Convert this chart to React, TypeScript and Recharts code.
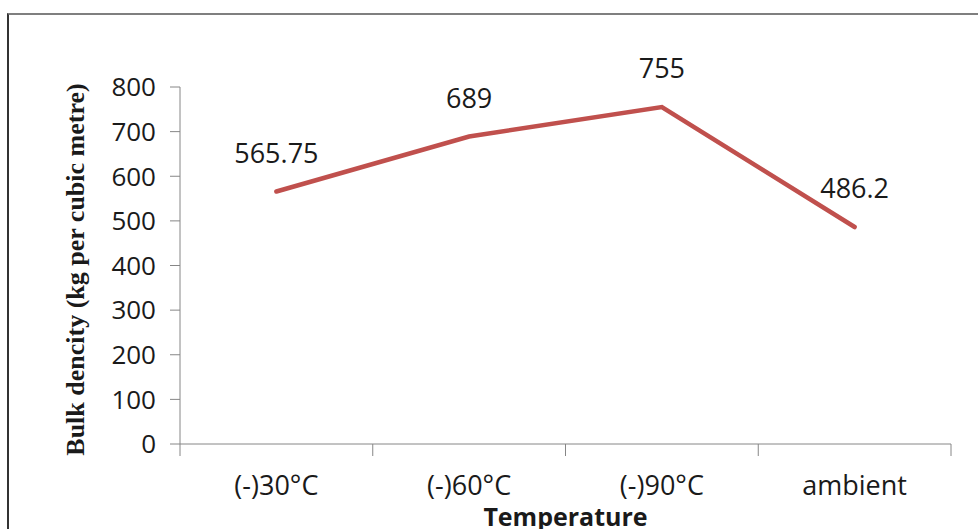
import { LineChart, Line, XAxis, YAxis, LabelList } from 'recharts';

const temperatures = ['(-)30°C', '(-)60°C', '(-)90°C', 'ambient'];
const bulkDensity = [565.75, 689, 755, 486.2];
const densityTicks = [0, 100, 200, 300, 400, 500, 600, 700, 800];

const chartData = temperatures.map((t, i) => ({ temperature: t, density: bulkDensity[i] }));

const AXIS = '#868686';
const TEXT = '#1a1a1a';
const SANS = '"Open Sans", "Noto Sans", sans-serif';

// Excel-style category axis: labels at band centres, tick marks on band edges
function CategoryTick(props: any) {
  const { x, y, payload, index, visibleTicksCount, width } = props;
  const band = (width || 770) / (visibleTicksCount || temperatures.length);
  const left = x - band / 2;
  const right = x + band / 2;
  return (
    <g>
      <line x1={left} y1={y} x2={left} y2={y + 12} stroke={AXIS} strokeWidth={1} />
      {index === visibleTicksCount - 1 && (
        <line x1={right} y1={y} x2={right} y2={y + 12} stroke={AXIS} strokeWidth={1} />
      )}
      <text x={x} y={y + 51} textAnchor="middle" fontFamily={SANS} fontSize={27} fill={TEXT}>
        {payload.value}
      </text>
    </g>
  );
}

function DensityTick(props: any) {
  const { x, y, payload } = props;
  return (
    <text x={x} y={y} dy="0.36em" textAnchor="end" fontFamily={SANS} fontSize={26} fill={TEXT}>
      {payload.value}
    </text>
  );
}

function ValueLabel(props: any) {
  const { x, y, value } = props;
  return (
    <text x={x} y={y - 29} textAnchor="middle" fontFamily={SANS} fontSize={27} fill={TEXT}>
      {value}
    </text>
  );
}

export default function App() {
  return (
    <div style={{ position: 'absolute', left: 0, top: 0, width: 978, height: 529, overflow: 'hidden', background: '#fff' }}>
      <div
        style={{
          position: 'absolute',
          left: 7,
          top: 13,
          width: 980,
          height: 530,
          borderTop: '2px solid #7f7f7f',
          borderLeft: '2px solid #333',
        }}
      />
      <div style={{ position: 'absolute', left: 0, top: 0 }}>
        <LineChart width={978} height={529} data={chartData} margin={{ top: 87, right: 27, bottom: 0, left: 0 }}>
          <XAxis
            dataKey="temperature"
            scale="band"
            height={85}
            stroke={AXIS}
            tickLine={false}
            tickSize={0}
            tickMargin={0}
            tick={<CategoryTick />}
            interval={0}
            label={{
              content: (p: any) => {
                const vb = p.viewBox || { x: 180, y: 444, width: 770 };
                return (
                  <text
                    x={vb.x + vb.width / 2}
                    y={vb.y + 82}
                    textAnchor="middle"
                    fontFamily={SANS}
                    fontWeight="bold"
                    fontSize={25}
                    fill={TEXT}
                  >
                    Temperature
                  </text>
                );
              },
            }}
          />
          <YAxis
            domain={[0, 800]}
            ticks={densityTicks}
            width={180}
            stroke={AXIS}
            tickSize={10}
            tickMargin={14}
            tick={<DensityTick />}
            label={{
              content: (p: any) => {
                const vb = p.viewBox || { x: 0, y: 87, height: 357 };
                const cx = 75;
                const cy = vb.y + vb.height / 2 + 4;
                return (
                  <text
                    x={cx}
                    y={cy}
                    transform={`rotate(-90, ${cx}, ${cy})`}
                    textAnchor="middle"
                    dominantBaseline="central"
                    fontFamily='"Liberation Serif", "DejaVu Serif", serif'
                    fontWeight="bold"
                    fontSize={26}
                    fill={TEXT}
                  >
                    Bulk dencity (kg per cubic metre)
                  </text>
                );
              },
            }}
          />
          <Line
            dataKey="density"
            stroke="#c0504d"
            strokeWidth={4.5}
            strokeLinecap="round"
            dot={false}
            activeDot={false}
            isAnimationActive={false}
          >
            <LabelList dataKey="density" content={<ValueLabel />} />
          </Line>
        </LineChart>
      </div>
    </div>
  );
}
